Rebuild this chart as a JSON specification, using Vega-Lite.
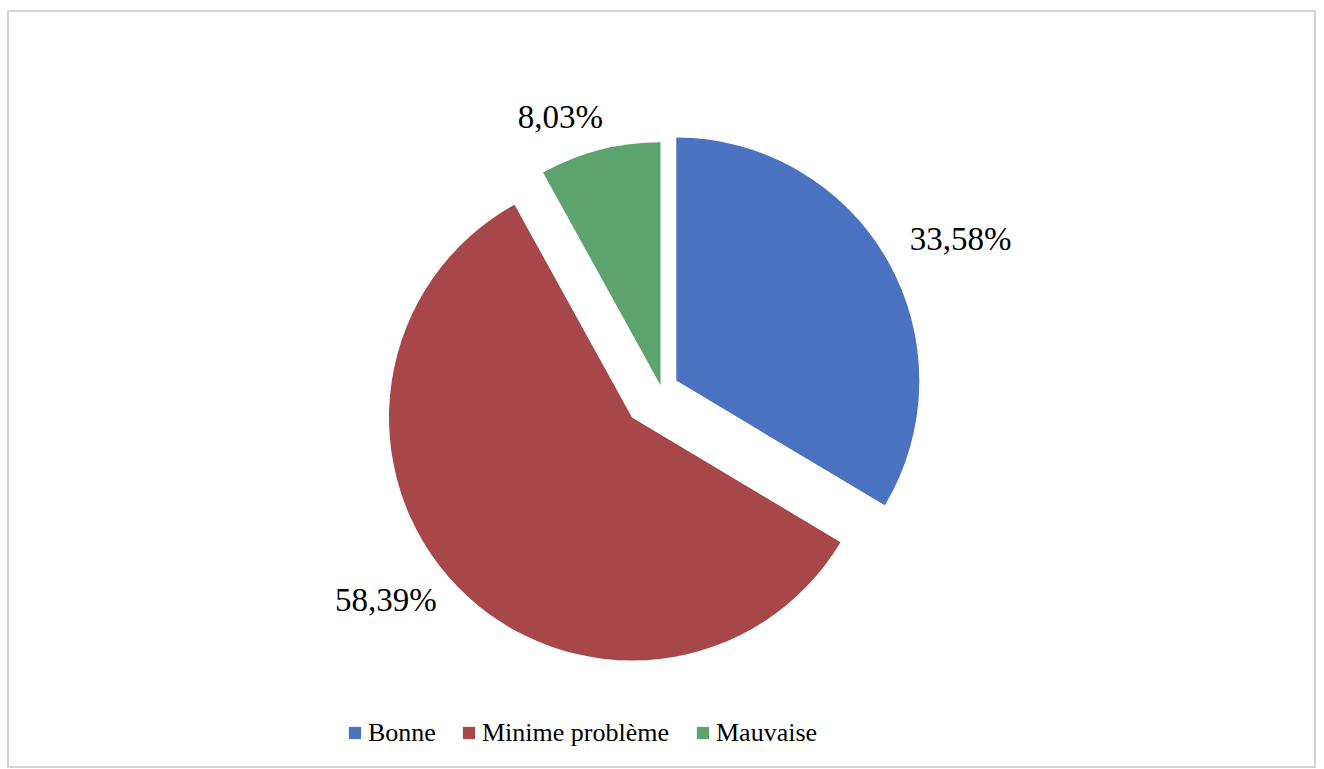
{
  "$schema": "https://vega.github.io/schema/vega-lite/v6.json",
  "autosize": {"type": "fit", "contains": "padding"},
  "width": 1324,
  "height": 769,
  "padding": {"left": 8, "top": 11, "right": 9, "bottom": 2},
  "background": "white",
  "view": {"stroke": "#d4d4d4", "strokeWidth": 2, "fill": "white"},
  "config": {"view": {"stroke": "#d4d4d4", "strokeWidth": 2}, "font": "Liberation Serif"},
  "data": {
    "values": [
      {"categorie": "Bonne", "pourcentage": 33.58},
      {"categorie": "Minime problème", "pourcentage": 58.39},
      {"categorie": "Mauvaise", "pourcentage": 8.03}
    ]
  },
  "transform": [
    {"calculate": "indexof(['Bonne','Minime problème','Mauvaise'], datum.categorie)", "as": "rang"},
    {"calculate": "replace(format(datum.pourcentage, '.2f'), '.', ',') + '%'", "as": "etiquette"}
  ],
  "encoding": {
    "theta": {"field": "pourcentage", "type": "quantitative", "stack": true},
    "order": {"field": "rang", "type": "quantitative"}
  },
  "layer": [
    {
      "mark": {
        "type": "arc",
        "outerRadius": 243,
        "xOffset": {"expr": "(datum.categorie=='Minime problème'?41:datum.categorie=='Bonne'?17:4)*sin((scale('theta',datum.pourcentage_start)+scale('theta',datum.pourcentage_end))/2)"},
        "yOffset": {"expr": "-(datum.categorie=='Minime problème'?41:datum.categorie=='Bonne'?17:4)*cos((scale('theta',datum.pourcentage_start)+scale('theta',datum.pourcentage_end))/2)"}
      },
      "encoding": {
        "color": {
          "field": "categorie",
          "type": "nominal",
          "scale": {"domain": ["Bonne", "Minime problème", "Mauvaise"], "range": ["#4A72C0", "#A8474A", "#5CA36E"]},
          "legend": {
            "title": null,
            "orient": "none",
            "direction": "horizontal",
            "columns": 3,
            "legendX": 334,
            "legendY": 709,
            "symbolType": "square",
            "symbolSize": 150,
            "symbolStrokeWidth": 0,
            "labelFont": "Liberation Serif",
            "labelFontSize": 26,
            "labelColor": "black",
            "labelOffset": 0,
            "columnPadding": 20,
            "padding": 0,
            "labelLimit": 400
          }
        }
      }
    },
    {
      "mark": {
        "type": "text",
        "font": "Liberation Serif",
        "fontSize": 33,
        "color": "black",
        "align": "center",
        "baseline": "middle",
        "radius": {"expr": "datum.categorie=='Bonne'?334:datum.categorie=='Minime problème'?348:289"},
        "thetaOffset": {"expr": "datum.categorie=='Bonne'?0.054:datum.categorie=='Minime problème'?0.112:-0.105"}
      },
      "encoding": {
        "detail": {"field": "categorie", "type": "nominal"},
        "text": {"field": "etiquette", "type": "nominal"}
      }
    }
  ]
}
